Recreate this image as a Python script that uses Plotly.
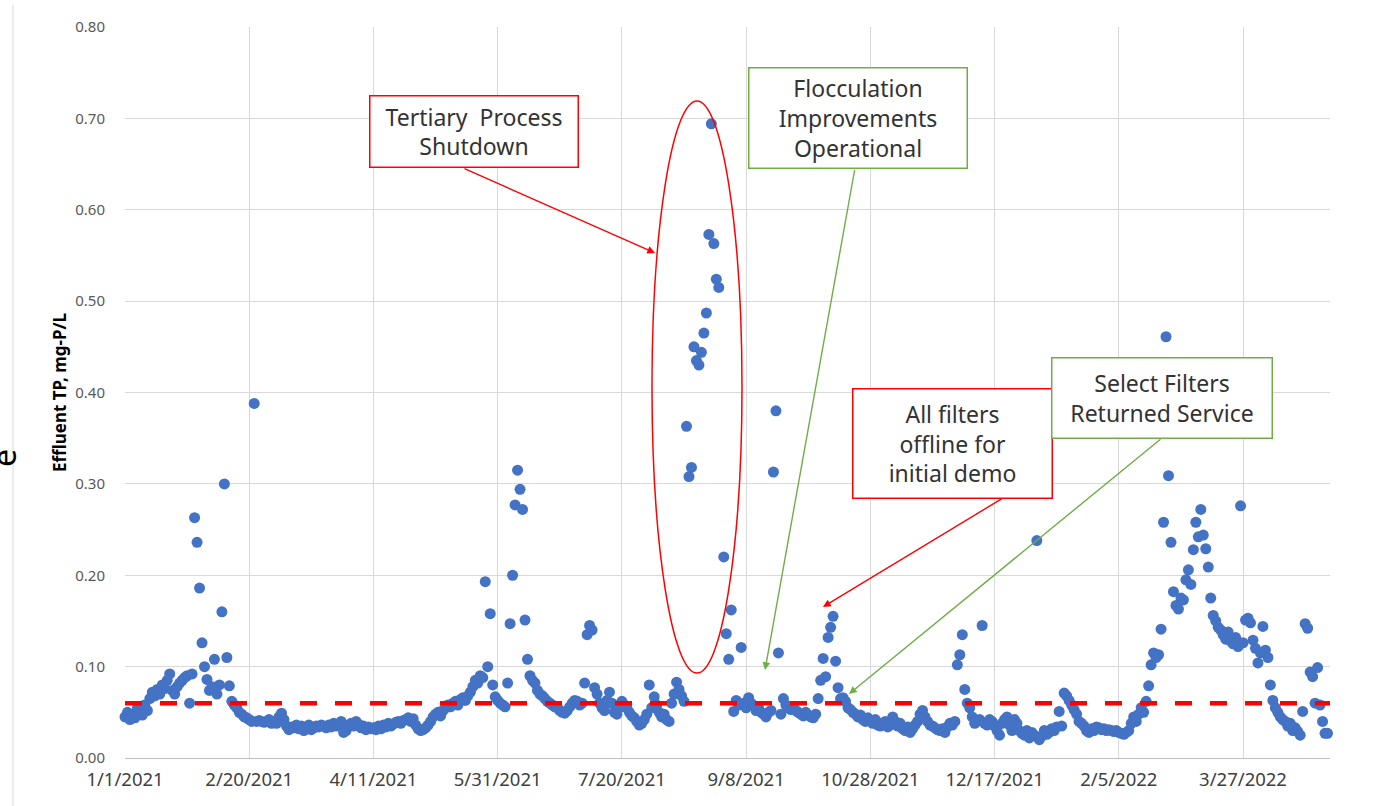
import pandas as pd
import plotly.graph_objects as go

# ---------------- data ----------------
start_date = "2021-01-01"
# daily effluent TP values (mg-P/L), starting 1/1/2021
tp_values = [
    0.045, 0.050, 0.042, 0.048, 0.044, 0.055, 0.050, 0.047, 0.058, 0.052,
    0.065, 0.072, 0.068, 0.075, 0.070, 0.080, 0.076, 0.085, 0.092, 0.074,
    0.070, 0.078, 0.082, 0.085, 0.088, 0.090, 0.060, 0.092, 0.263, 0.236,
    0.186, 0.126, 0.100, 0.086, 0.074, 0.078, 0.108, 0.070, 0.080, 0.160,
    0.300, 0.110, 0.079, 0.062, 0.058, 0.055, 0.050, 0.048, 0.045, 0.044,
    0.042, 0.040, 0.388, 0.040, 0.041, 0.040, 0.039, 0.040, 0.042, 0.038,
    0.040, 0.038, 0.045, 0.049, 0.042, 0.035, 0.031, 0.034, 0.033, 0.036,
    0.032, 0.035, 0.030, 0.034, 0.036, 0.031, 0.033, 0.035, 0.034, 0.036,
    0.035, 0.033, 0.036, 0.034, 0.038, 0.035, 0.037, 0.040, 0.028, 0.030,
    0.036, 0.038, 0.035, 0.040, 0.037, 0.033, 0.035, 0.031, 0.034, 0.032,
    0.033, 0.031, 0.035, 0.032, 0.036, 0.034, 0.038, 0.035, 0.037, 0.039,
    0.040, 0.038, 0.041, 0.042, 0.044, 0.040, 0.043, 0.036, 0.032, 0.030,
    0.031, 0.033, 0.036, 0.040, 0.045, 0.048, 0.050, 0.046, 0.052, 0.055,
    0.058, 0.056, 0.060, 0.062, 0.058, 0.064, 0.066, 0.063, 0.068, 0.072,
    0.078, 0.085, 0.082, 0.090, 0.088, 0.193, 0.100, 0.158, 0.080, 0.067,
    0.063, 0.060, 0.058, 0.056, 0.082, 0.147, 0.200, 0.277, 0.315, 0.294,
    0.272, 0.151, 0.108, 0.090, 0.085, 0.082, 0.074, 0.070, 0.068, 0.065,
    0.062, 0.060, 0.058, 0.056, 0.055, 0.052, 0.050, 0.049, 0.052, 0.056,
    0.060, 0.063, 0.062, 0.058, 0.060, 0.082, 0.135, 0.145, 0.140, 0.077,
    0.070, 0.060, 0.055, 0.052, 0.063, 0.072, 0.060, 0.050, 0.048, 0.055,
    0.062, 0.058, 0.055, 0.050, 0.046, 0.044, 0.040, 0.036, 0.038, 0.042,
    0.048, 0.080, 0.055, 0.067, 0.058, 0.050, 0.045, 0.048, 0.042, 0.040,
    0.060, 0.070, 0.083, 0.075, 0.068, 0.062, 0.363, 0.308, 0.318, 0.450,
    0.435, 0.430, 0.444, 0.465, 0.487, 0.573, 0.694, 0.563, 0.524, 0.515,
    None, 0.220, 0.136, 0.108, 0.162, 0.051, 0.063, 0.058, 0.121, 0.060,
    0.055, 0.066, 0.060, 0.057, 0.052, 0.055, 0.050, 0.048, 0.045, 0.050,
    0.052, 0.313, 0.380, 0.115, 0.048, 0.065, 0.058, 0.055, 0.053, 0.056,
    0.052, 0.050, 0.048, 0.046, 0.050, 0.047, 0.045, 0.044, 0.048, 0.065,
    0.085, 0.109, 0.089, 0.132, 0.143, 0.155, 0.106, 0.077, 0.065, 0.066,
    0.062, 0.055, 0.053, 0.050, 0.048, 0.045, 0.047, 0.042, 0.040, 0.044,
    0.040, 0.038, 0.042, 0.036, 0.035, 0.038, 0.040, 0.034, 0.036, 0.045,
    0.040, 0.035, 0.038, 0.032, 0.030, 0.034, 0.028, 0.032, 0.036, 0.040,
    0.048, 0.052, 0.045, 0.040, 0.036, 0.035, 0.033, 0.031, 0.030, 0.032,
    0.028, 0.034, 0.038, 0.036, 0.040, 0.102, 0.113, 0.135, 0.075, 0.060,
    0.055, 0.045, 0.038, 0.040, 0.042, 0.145, 0.038, 0.036, 0.042, 0.040,
    0.035, 0.030, 0.025, 0.038, 0.042, 0.045, 0.036, 0.030, 0.042, 0.038,
    0.030, 0.027, 0.025, 0.030, 0.022, 0.028, 0.025, 0.238, 0.020, 0.024,
    0.030, 0.026, 0.028, 0.032, 0.030, 0.034, 0.051, 0.035, 0.071, 0.068,
    0.063, 0.058, 0.053, 0.048, 0.040, 0.038, 0.035, 0.030, 0.028, 0.032,
    0.030, 0.034, 0.033, 0.031, 0.032, 0.030, 0.031, 0.030, 0.029, 0.030,
    0.028, 0.027, 0.026, 0.028, 0.030, 0.038, 0.045, 0.040, 0.048, 0.055,
    0.050, 0.062, 0.079, 0.102, 0.115, 0.110, 0.113, 0.141, 0.258, 0.461,
    0.309, 0.236, 0.182, 0.167, 0.163, 0.175, 0.173, 0.195, 0.206, 0.190,
    0.228, 0.258, 0.242, 0.272, 0.244, 0.229, 0.209, 0.175, 0.156, 0.150,
    0.143, 0.140, 0.135, 0.130, 0.138, 0.128, 0.125, 0.132, 0.122, 0.276,
    0.126, 0.151, 0.153, 0.148, 0.129, 0.120, 0.104, 0.115, 0.144, 0.118,
    0.110, 0.080, 0.063, 0.055, 0.050, 0.045, 0.042, 0.040, 0.035, 0.038,
    0.030, 0.033, 0.029, 0.025, 0.051, 0.147, 0.142, 0.094, 0.089, 0.060,
    0.099, 0.058, 0.040, 0.027, 0.027,
]
limit_value = 0.06
x_tick_labels = ["1/1/2021", "2/20/2021", "4/11/2021", "5/31/2021", "7/20/2021",
                 "9/8/2021", "10/28/2021", "12/17/2021", "2/5/2022", "3/27/2022"]
y_tick_values = [0.0, 0.1, 0.2, 0.3, 0.4, 0.5, 0.6, 0.7, 0.8]
x_range = ["2021-01-01", "2022-05-01"]
y_title = "Effluent TP, mg-P/L"

dates = pd.date_range(start_date, periods=len(tp_values), freq="D")
tick_dates = pd.to_datetime(x_tick_labels, format="%m/%d/%Y")

# ---------------- layout geometry (pixels) ----------------
W, H = 1375, 806
L, R, T, B = 125, 1330, 27, 758


def px(xp):
    return (xp - L) / (R - L)


def py(yp):
    return (B - yp) / (B - T)


RED = "#FF0000"
GREEN = "#70AD47"
BLUE = "#4472C4"
TXT = "#333333"
FONT = "Noto Sans"

fig = go.Figure()
fig.add_trace(go.Scatter(
    x=dates, y=tp_values, mode="markers",
    marker=dict(color=BLUE, size=11, line=dict(width=0)),
    showlegend=False, cliponaxis=False,
))

shapes = [
    # threshold line
    dict(type="line", xref="paper", yref="y", x0=0, x1=1, y0=limit_value, y1=limit_value,
         line=dict(color=RED, width=4.5, dash="17px,18px")),
    # ellipse around shutdown
    dict(type="circle", xref="paper", yref="paper", x0=px(652), x1=px(742), y0=py(673), y1=py(101),
         line=dict(color=RED, width=1.5)),
    # outer chart border (left)
    dict(type="line", xref="paper", yref="paper", x0=px(13), x1=px(13), y0=py(5), y1=py(806),
         line=dict(color="#D9D9D9", width=1)),
]

annotations = []


def box(text, cx, cy, w, h, color):
    annotations.append(dict(
        text=text, xref="paper", yref="paper", x=px(cx), y=py(cy),
        xanchor="center", yanchor="middle", showarrow=False,
        width=w - 4, height=h - 4, borderpad=1, borderwidth=1.5,
        bordercolor=color, bgcolor="white", align="center", valign="middle",
        font=dict(family=FONT, size=23, color=TXT),
    ))


def arrow(hx, hy, tx, ty, color):
    annotations.append(dict(
        text=" ", xref="paper", yref="paper", x=px(hx), y=py(hy),
        ax=tx - hx, ay=ty - hy, showarrow=True, arrowhead=2, arrowsize=1.1,
        arrowwidth=1.4, arrowcolor=color, standoff=0, startstandoff=0,
        font=dict(size=1),
    ))


arrow(655, 253, 463, 168, RED)
arrow(765, 670, 855, 168, GREEN)
arrow(823, 607, 1003, 498, RED)
arrow(849, 694, 1162, 438, GREEN)

box("Tertiary  Process<br>Shutdown", 473.5, 131, 209, 72, RED)
box("Flocculation<br>Improvements<br>Operational", 858.5, 117.5, 219, 101, GREEN)
box("All filters<br>offline for<br>initial demo", 952, 443, 200, 110, RED)
box("Select Filters<br>Returned Service", 1161.5, 397.5, 221, 81, GREEN)

# stray cropped glyph at the far left edge
annotations.append(dict(
    text="e", xref="paper", yref="paper", x=px(4), y=py(458), xanchor="center", yanchor="middle",
    showarrow=False, textangle=-90, font=dict(family=FONT, size=32, color="#000000"),
))

fig.update_layout(
    width=W, height=H, autosize=False,
    margin=dict(l=L, r=W - R, t=T, b=H - B),
    paper_bgcolor="white", plot_bgcolor="white",
    shapes=shapes, annotations=annotations,
    xaxis=dict(
        range=x_range, tickvals=tick_dates, ticktext=x_tick_labels,
        showgrid=True, gridcolor="#D9D9D9", gridwidth=1,
        showline=True, linecolor="#BFBFBF", linewidth=1, ticks="",
        ticklabelstandoff=5,
        tickfont=dict(family=FONT, size=18.5, color="#404040"), zeroline=False,
    ),
    yaxis=dict(
        range=[0, 0.8], tickvals=y_tick_values, tickformat=".2f",
        showgrid=True, gridcolor="#D9D9D9", gridwidth=1, zeroline=False,
        showline=False, ticks="", ticklabelstandoff=19,
        tickfont=dict(family=FONT, size=15, color="#595959"),
        title=dict(text="<b>" + y_title + "</b>", standoff=4,
                   font=dict(family=FONT, size=17, color="#000000")),
    ),
)

fig.write_html("out.html", config={"displayModeBar": False},
               post_script="document.body.style.margin='0px';")
